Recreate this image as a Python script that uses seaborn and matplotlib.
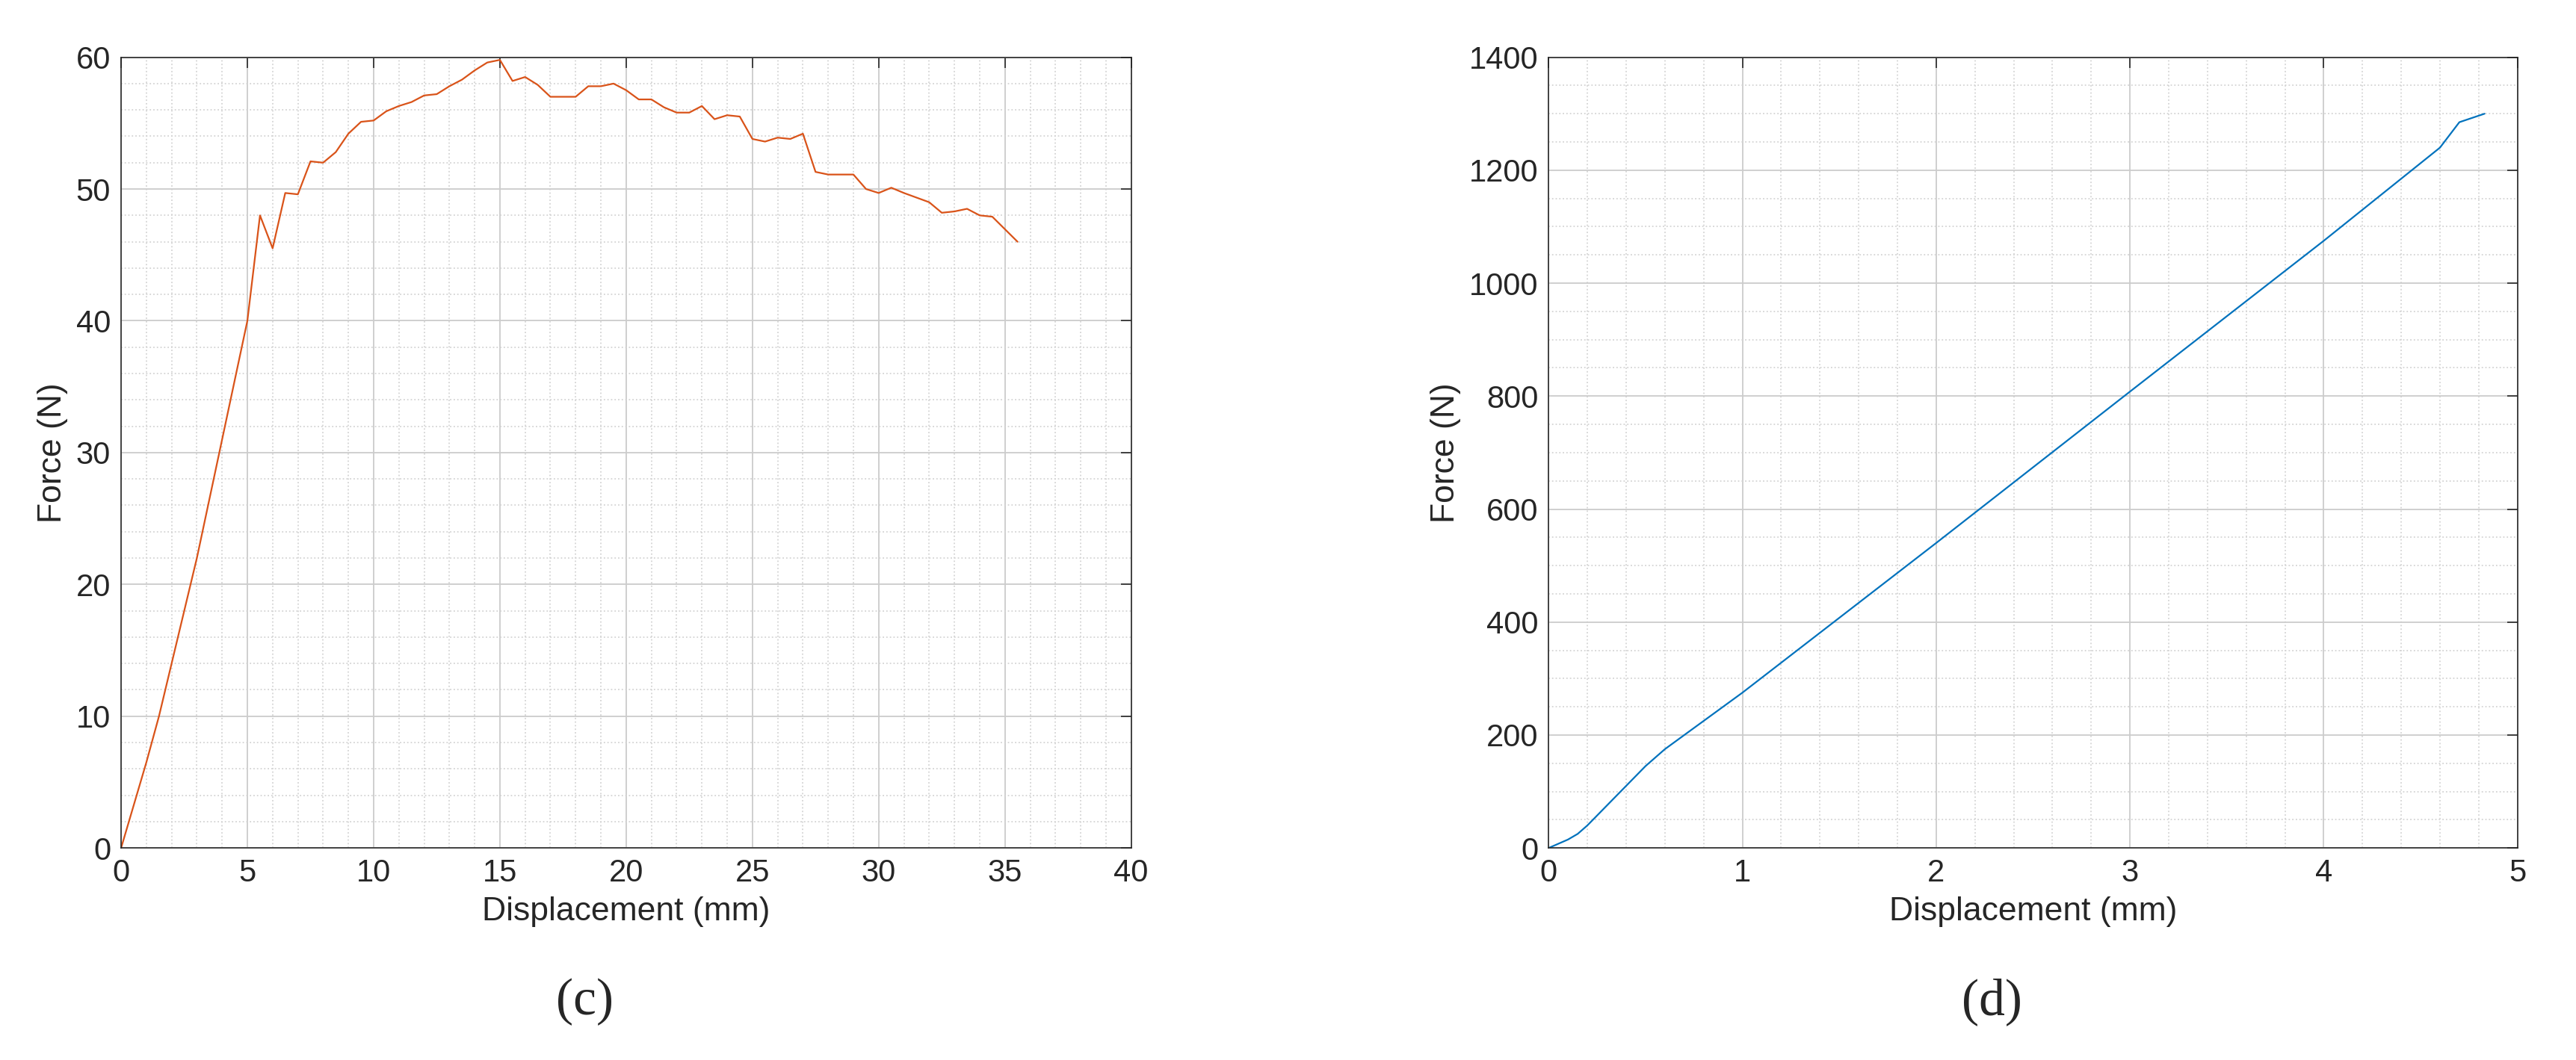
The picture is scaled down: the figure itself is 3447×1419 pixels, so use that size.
import numpy as np
import pandas as pd
import seaborn as sns
import matplotlib.pyplot as plt
from matplotlib.ticker import MultipleLocator

# Curve (c): displacement (mm) vs force (N)
disp_c = [0, 1, 1.5, 2, 3, 4, 5, 5.5, 6, 6.5, 7, 7.5, 8, 8.5, 9, 9.5, 10, 10.5, 11, 11.5,
          12, 12.5, 13, 13.5, 14, 14.5, 15, 15.5, 16, 16.5, 17, 18, 18.5, 19, 19.5, 20,
          20.5, 21, 21.5, 22, 22.5, 23, 23.5, 24, 24.5, 25, 25.5, 26, 26.5, 27, 27.5, 28,
          29, 29.5, 30, 30.5, 31, 32, 32.5, 33, 33.5, 34, 34.5, 35.5]
force_c = [0, 6.5, 10, 14, 22, 31, 40, 48, 45.5, 49.7, 49.6, 52.1, 52, 52.8, 54.2, 55.1, 55.2,
           55.9, 56.3, 56.6, 57.1, 57.2, 57.8, 58.3, 59, 59.6, 59.8, 58.2, 58.5, 57.9, 57, 57,
           57.8, 57.8, 58, 57.5, 56.8, 56.8, 56.2, 55.8, 55.8, 56.3, 55.3, 55.6, 55.5, 53.8,
           53.6, 53.9, 53.8, 54.2, 51.3, 51.1, 51.1, 50, 49.7, 50.1, 49.7, 49, 48.2, 48.3, 48.5,
           48, 47.9, 46]

# Curve (d)
disp_d = [0, 0.1, 0.15, 0.2, 0.3, 0.4, 0.5, 0.6, 0.7, 1, 2, 3, 4, 4.6, 4.7, 4.83]
force_d = [0, 15, 25, 40, 75, 110, 145, 175, 200, 275, 540, 808, 1075, 1240, 1285, 1300]

sns.set_style('white')
plt.rcParams['font.family'] = ['Liberation Sans', 'DejaVu Sans']

fig = plt.figure(figsize=(34.48, 14.19), dpi=100)
ax1 = fig.add_axes([0.047, 0.20, 0.392, 0.746])
ax2 = fig.add_axes([0.601, 0.20, 0.376, 0.746])

sns.lineplot(x=disp_c, y=force_c, ax=ax1, color='#D95319', linewidth=1.6)
sns.lineplot(x=disp_d, y=force_d, ax=ax2, color='#0072BD', linewidth=1.6)

setup = [(ax1, 40, 60, 5, 1, 10, 2), (ax2, 5, 1400, 1, 0.2, 200, 50)]
for ax, xmax, ymax, xmaj, xmin, ymaj, ymin in setup:
    ax.set_xlim(0, xmax)
    ax.set_ylim(0, ymax)
    ax.xaxis.set_major_locator(MultipleLocator(xmaj))
    ax.xaxis.set_minor_locator(MultipleLocator(xmin))
    ax.yaxis.set_major_locator(MultipleLocator(ymaj))
    ax.yaxis.set_minor_locator(MultipleLocator(ymin))
    ax.grid(which='major', color='#cccccc', linewidth=1.3)
    ax.grid(which='minor', color='#d4d4d4', linestyle=':', linewidth=1.3)
    ax.set_axisbelow(True)
    ax.tick_params(which='major', direction='in', length=10, top=True, right=True,
                   labelsize=30, colors='#262626', width=1.2, pad=10)
    ax.tick_params(which='minor', length=0)
    for s in ax.spines.values():
        s.set_color('#262626')
        s.set_linewidth(1.2)
    ax.set_xlabel('Displacement (mm)', fontsize=32, color='#262626', labelpad=8)
    ax.set_ylabel('Force (N)', fontsize=32, color='#262626', labelpad=8)

fig.text(0.227, 0.055, '(c)', fontsize=50, family='Liberation Serif', ha='center', va='center')
fig.text(0.773, 0.055, '(d)', fontsize=50, family='Liberation Serif', ha='center', va='center')

fig.savefig('out.png', dpi=100, facecolor='white')
